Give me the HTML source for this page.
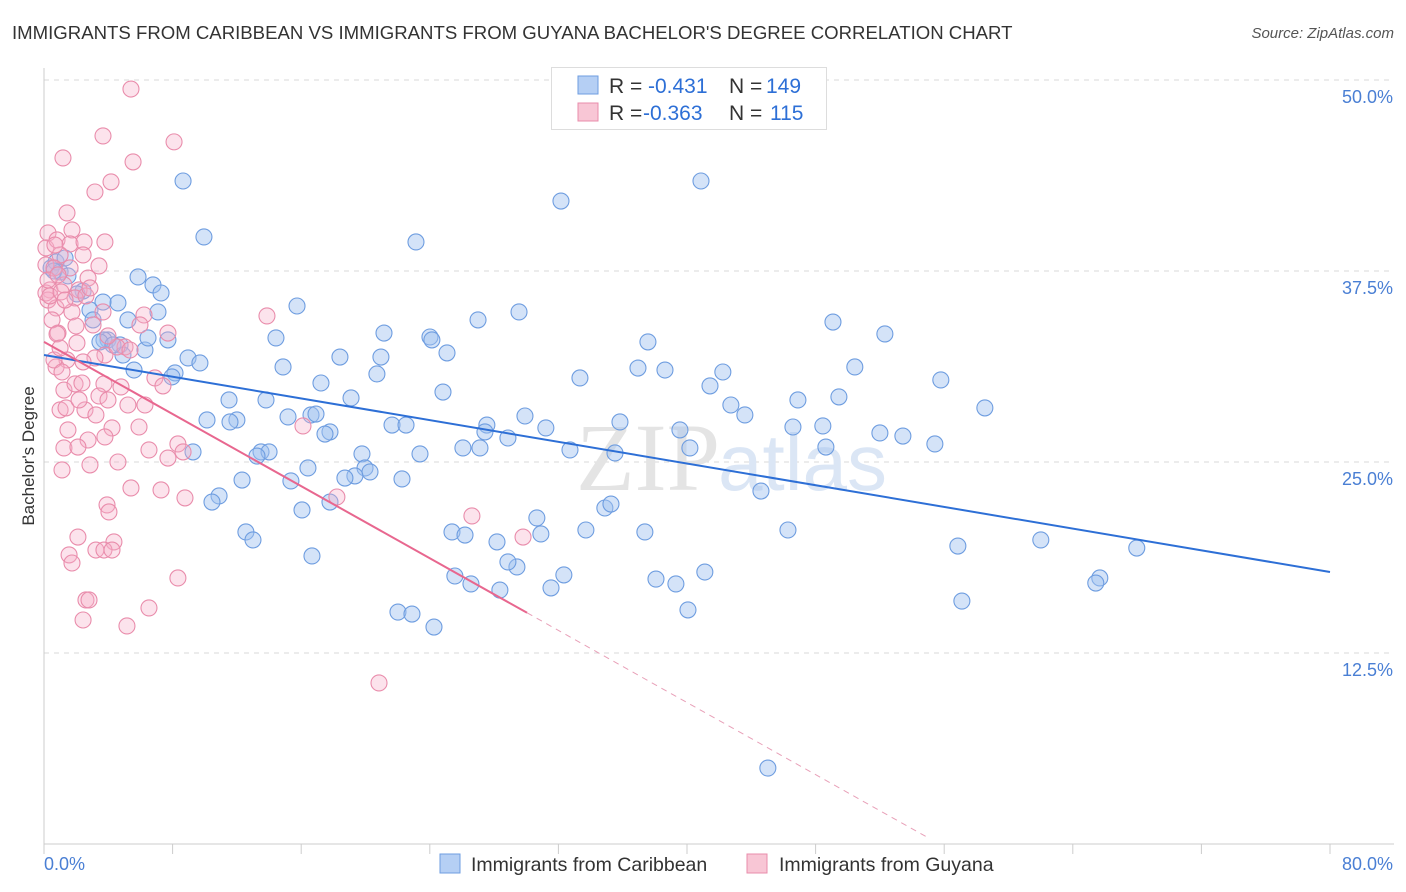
<!DOCTYPE html>
<html><head><meta charset="utf-8"><style>
body{margin:0;background:#fff;font-family:"Liberation Sans",sans-serif;}
#wrap{position:relative;width:1406px;height:892px;overflow:hidden;}
.t{position:absolute;white-space:nowrap;}
</style></head><body>
<div id="wrap">
<div class="t" style="left:12px;top:22px;font-size:18.6px;color:#333;">IMMIGRANTS FROM CARIBBEAN VS IMMIGRANTS FROM GUYANA BACHELOR'S DEGREE CORRELATION CHART</div>
<div class="t" style="right:12px;top:25px;font-size:15px;color:#555;font-style:italic;">Source: ZipAtlas.com</div>
<svg id="svg" width="1406" height="892" style="position:absolute;left:0;top:0"></svg>
</div>
<script>
const xTickVals=[0,8,16,24,32,40,48,56,64,72,80];
const yTickVals=[12.5,25,37.5,50];
const yTickLabels=["12.5%","25.0%","37.5%","50.0%"];
const blueX=[8.65,9.95,5.85,6.78,7.28,4.60,3.67,2.86,5.22,7.09,3.98,4.73,4.91,6.28,6.47,7.71,5.60,8.96,9.70,8.15,7.96,15.74,14.43,14.87,17.23,16.61,19.10,21.15,20.96,20.71,18.41,24.01,24.13,25.07,24.82,23.14,27.00,29.55,32.16,40.87,33.34,36.95,37.57,38.63,41.43,42.23,42.73,43.60,46.90,49.08,52.31,50.44,49.45,55.79,58.53,55.42,53.43,52.00,48.45,46.59,48.64,40.18,39.56,35.83,35.52,32.72,29.92,31.22,28.86,27.55,27.43,26.06,27.12,21.65,22.52,23.39,19.78,19.97,20.28,19.34,18.72,22.27,17.79,17.48,16.92,15.18,13.81,11.51,12.00,10.14,11.57,9.27,12.32,13.50,14.00,13.25,16.42,15.36,17.79,16.05,10.89,10.45,12.56,13.00,16.67,25.38,26.19,28.18,30.66,30.91,33.71,34.89,35.27,37.38,46.28,44.60,56.85,62.01,67.98,65.68,65.43,57.10,41.11,39.31,38.07,40.06,31.54,32.34,29.42,28.86,25.56,26.56,28.36,22.02,22.89,24.26,45.03,0.44,0.75,1.00,0.62,1.31,1.49,2.43,2.05,3.05,3.73,3.48,4.29];
const blueY=[43.39,39.73,37.11,36.59,36.06,35.41,35.47,34.95,34.30,34.82,32.99,32.66,32.00,32.33,33.12,32.99,31.02,31.81,31.48,30.83,30.57,35.21,33.12,31.22,30.17,28.08,29.19,33.44,31.87,30.76,31.87,33.18,32.99,32.14,29.58,39.40,34.30,34.82,42.08,43.39,30.50,31.15,32.86,31.02,29.98,30.89,28.73,28.08,29.06,34.16,33.38,31.22,29.26,30.37,28.54,26.18,26.70,26.90,27.36,27.29,25.98,25.92,27.10,27.62,25.59,25.79,28.01,27.23,26.57,27.42,26.97,25.92,25.92,27.42,27.42,25.53,25.53,24.61,24.35,24.09,23.95,23.89,26.97,26.83,28.14,27.95,29.06,29.06,27.75,27.75,27.62,25.66,23.82,25.66,25.66,25.39,24.61,23.76,22.38,21.86,22.78,22.38,20.42,19.90,18.85,20.42,20.22,19.77,21.34,20.29,20.55,21.99,22.25,20.42,20.55,23.10,19.50,19.90,19.37,17.41,17.08,15.90,17.80,17.02,17.34,15.32,16.76,17.61,18.13,18.46,17.54,17.02,16.62,15.18,15.05,14.20,4.97,37.70,38.09,37.44,37.50,38.35,37.18,36.19,36.00,34.30,32.99,32.86,32.66];
const pinkX=[5.41,3.67,5.54,8.09,1.18,4.17,3.17,1.43,1.74,0.25,0.12,0.81,1.62,2.49,3.79,1.00,2.43,0.12,0.62,1.62,2.18,0.37,1.24,1.93,2.61,0.25,0.75,1.74,3.67,6.22,13.87,7.71,0.87,1.99,3.05,2.05,5.04,3.79,4.54,5.35,3.17,2.43,1.43,0.75,0.62,1.12,1.24,1.93,3.73,4.79,6.90,7.40,3.42,5.22,6.28,1.00,1.37,2.55,3.23,4.23,5.91,2.74,3.79,1.24,2.11,8.33,8.65,6.53,7.71,4.60,2.86,1.12,5.41,7.28,8.77,3.92,4.04,16.11,18.22,2.11,1.56,1.74,4.35,3.23,3.73,4.23,8.33,2.61,2.80,2.43,6.53,5.16,26.62,29.80,20.84,0.12,0.37,0.25,0.50,0.81,1.00,2.74,3.42,1.06,2.36,1.49,3.98,2.18,5.97,1.31,2.86,0.87,0.68,3.98];
const pinkY=[49.41,46.34,44.64,45.95,44.90,43.33,42.67,41.30,40.19,39.99,39.01,39.53,39.27,39.40,39.40,38.55,38.55,37.90,37.70,37.70,36.26,36.26,36.59,35.74,35.87,35.60,35.08,34.82,34.82,34.62,34.56,33.44,33.44,33.90,33.97,32.79,32.53,32.00,32.53,32.33,31.81,31.55,31.68,31.22,31.68,30.89,29.71,30.11,30.11,29.91,30.50,29.98,29.32,28.73,28.73,28.41,28.54,28.41,28.08,27.23,27.29,26.44,26.64,25.92,25.98,26.18,25.66,25.79,25.26,25.00,24.81,24.48,23.30,23.17,22.65,22.19,21.73,27.36,22.71,20.09,18.92,18.39,19.77,19.24,19.24,19.24,17.41,15.97,15.97,14.66,15.45,14.27,21.47,20.09,10.54,36.06,35.87,36.91,34.30,33.38,32.46,37.04,37.83,36.13,30.17,27.10,29.06,29.06,33.97,35.60,36.39,37.24,39.20,33.25];
const blueTrend=[32.0,17.8];
const pinkTrend=[32.86,-0.590];
const pinkSolidEnd=30.05, pinkDashEnd=55.1;

const svg=document.getElementById('svg');const NS='http://www.w3.org/2000/svg';
const X0=44,X1=1330,Y0=844;
const sx=v=>X0+v/80*(X1-X0);
const sy=v=>Y0-v*15.28;
function el(tag,attrs,name,parent){const e=document.createElementNS(NS,tag);for(const k in attrs)e.setAttribute(k,attrs[k]);


(parent||svg).appendChild(e);return e;}
yTickVals.forEach((v,i)=>{
 el('line',{x1:X0,x2:1394,y1:sy(v),y2:sy(v),stroke:'#d8d8d8','stroke-dasharray':'5,5'},'gridline');
 const t=el('text',{x:1393,y:sy(v)+23,'text-anchor':'end','font-size':18,fill:'#4a7fd4','font-family':'Liberation Sans'},'y-tick-label');t.textContent=yTickLabels[i];
});
el('line',{x1:X0,x2:1394,y1:Y0,y2:Y0,stroke:'#ccc'},'x-axis');
el('line',{x1:X0,x2:X0,y1:68,y2:Y0,stroke:'#ccc'},'y-axis');
xTickVals.forEach(v=>{el('line',{x1:sx(v),x2:sx(v),y1:Y0,y2:Y0+10,stroke:'#ccc'},'x-tick');});
let t=el('text',{x:44,y:870,'font-size':18,fill:'#4a7fd4','font-family':'Liberation Sans'},'x-min-label');t.textContent='0.0%';
t=el('text',{x:1393,y:870,'text-anchor':'end','font-size':18,fill:'#4a7fd4','font-family':'Liberation Sans'},'x-max-label');t.textContent='80.0%';
t=el('text',{x:34,y:456,'text-anchor':'middle','font-size':17,fill:'#333','font-family':'Liberation Sans',transform:'rotate(-90 34 456)'},'y-axis-title');t.textContent="Bachelor's Degree";
t=el('text',{x:720,y:490,'text-anchor':'end','font-size':96,fill:'#e4e4e4','font-family':'Liberation Serif'},'watermark-zip');t.textContent='ZIP';
t=el('text',{x:718,y:490,'font-size':80,fill:'#dbe6f5','font-family':'Liberation Sans'},'watermark-atlas');t.textContent='atlas';
blueX.forEach((x,i)=>{el('circle',{cx:sx(x),cy:sy(blueY[i]),r:8,fill:'rgba(160,192,240,0.45)',stroke:'#6e9de0','stroke-width':1.1},'blue-point');});
pinkX.forEach((x,i)=>{el('circle',{cx:sx(x),cy:sy(pinkY[i]),r:8,fill:'rgba(246,175,200,0.35)',stroke:'#e98cab','stroke-width':1.1},'pink-point');});
el('line',{x1:sx(0),y1:sy(blueTrend[0]),x2:sx(80),y2:sy(blueTrend[1]),stroke:'#2d6fd6','stroke-width':2},'blue-trend-line');
el('line',{x1:sx(0),y1:sy(pinkTrend[0]),x2:sx(pinkSolidEnd),y2:sy(pinkTrend[0]+pinkTrend[1]*pinkSolidEnd),stroke:'#e8678f','stroke-width':2},'pink-trend-line');
el('line',{x1:sx(pinkSolidEnd),y1:sy(pinkTrend[0]+pinkTrend[1]*pinkSolidEnd),x2:sx(pinkDashEnd),y2:sy(pinkTrend[0]+pinkTrend[1]*pinkDashEnd),stroke:'#e8a0b8','stroke-width':1,'stroke-dasharray':'6,5'},'pink-trend-extension');
el('rect',{x:551.5,y:67.5,width:275,height:62,fill:'#fff',stroke:'#ddd'},'legend-box');
el('rect',{x:578,y:76,width:20,height:18,fill:'#b5cff4',stroke:'#6e9de0'},'legend-swatch-blue');
el('rect',{x:578,y:103,width:20,height:18,fill:'#f8c6d5',stroke:'#e98cab'},'legend-swatch-pink');
function lt(x,y,s,c,n){const e=el('text',{x:x,y:y,'font-size':21,fill:c,'font-family':'Liberation Sans'},n);e.textContent=s;}
lt(609,93,'R =','#333','legend-r-label');lt(648,93,'-0.431','#2d6fd6','legend-r-blue');lt(729,93,'N =','#333','legend-n-label');lt(766,93,'149','#2d6fd6','legend-n-blue');
lt(609,120,'R =','#333','legend-r-label');lt(643,120,'-0.363','#2d6fd6','legend-r-pink');lt(729,120,'N =','#333','legend-n-label');lt(770,120,'115','#2d6fd6','legend-n-pink');
el('rect',{x:440,y:854,width:20,height:19,fill:'#b5cff4',stroke:'#6e9de0'},'bottom-legend-swatch-blue');
el('rect',{x:747,y:854,width:20,height:19,fill:'#f8c6d5',stroke:'#e98cab'},'bottom-legend-swatch-pink');
t=el('text',{x:471,y:871,'font-size':19.5,fill:'#333','font-family':'Liberation Sans'},'bottom-legend-blue');t.textContent='Immigrants from Caribbean';
t=el('text',{x:779,y:871,'font-size':19.5,fill:'#333','font-family':'Liberation Sans'},'bottom-legend-pink');t.textContent='Immigrants from Guyana';
</script>
</body></html>
